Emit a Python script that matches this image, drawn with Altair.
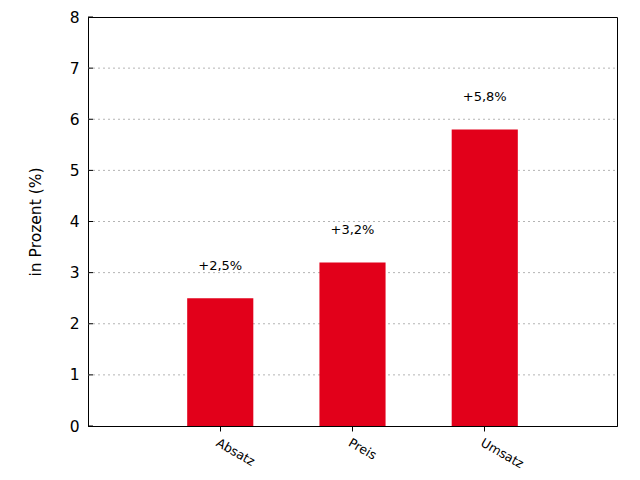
import altair as alt
import pandas as pd

categories = ["Absatz", "Preis", "Umsatz"]
values = [2.5, 3.2, 5.8]
value_labels = ["+2,5%", "+3,2%", "+5,8%"]
y_ticks = [0, 1, 2, 3, 4, 5, 6, 7, 8]
grid_lines = [1, 2, 3, 4, 5, 6, 7]

df = pd.DataFrame({"cat": categories, "val": values, "lbl": value_labels})
ticks_df = pd.DataFrame({"t": y_ticks})
grid_df = pd.DataFrame({"g": grid_lines})

FONT = "DejaVu Sans"
RED = "#e2001a"

x_enc = alt.X(
    "cat:N",
    sort=categories,
    scale=alt.Scale(paddingInner=0.5, paddingOuter=0.75),
    axis=alt.Axis(
        title=None,
        labelAngle=30,
        labelAlign="left",
        labelBaseline="top",
        labelPadding=5,
        labelFontSize=12.5,
        labelFont=FONT,
        labelColor="#000000",
        tickSize=5,
        tickColor="#000000",
        domainColor="#000000",
        grid=False,
    ),
)

y_scale = alt.Scale(domain=[0, 8], nice=False, zero=True)

grid = alt.Chart(grid_df).mark_rule(
    color="#b4b4b4", strokeWidth=1, strokeDash=[2, 3]
).encode(
    x=alt.value(0),
    x2=alt.value(529),
    y=alt.Y("g:Q", scale=y_scale),
)

bars = alt.Chart(df).mark_bar(color=RED).encode(
    x=x_enc,
    y=alt.Y(
        "val:Q",
        scale=y_scale,
        axis=alt.Axis(
            title="in Prozent (%)",
            titleFont=FONT,
            titleFontSize=15.5,
            titleFontWeight="normal",
            titleColor="#000000",
            titlePadding=26,
            values=y_ticks,
            labelFontSize=15.5,
            labelFont=FONT,
            labelColor="#000000",
            labelPadding=9,
            tickSize=0,
            domainColor="#000000",
            grid=False,
        ),
    ),
)

labels = alt.Chart(df).mark_text(
    font=FONT, fontSize=13, color="#000000", dy=-32, baseline="middle"
).encode(
    x=alt.X("cat:N", sort=categories),
    y=alt.Y("val:Q", scale=y_scale),
    text="lbl:N",
)

inner_ticks = alt.Chart(ticks_df).mark_rule(color="#000000", strokeWidth=1).encode(
    x=alt.value(0),
    x2=alt.value(5),
    y=alt.Y("t:Q", scale=y_scale),
)

chart = (
    alt.layer(grid, bars, inner_ticks, labels)
    .properties(
        width=529,
        height=409,
        autosize=alt.AutoSizeParams(type="none"),
        padding={"left": 80, "top": 9, "right": 15, "bottom": 46},
    )
    .configure_view(stroke="#000000", strokeWidth=1)
    .configure_axis(domainWidth=1, tickWidth=1)
)

chart.save("out.html", embed_options={"renderer": "svg", "actions": False})
